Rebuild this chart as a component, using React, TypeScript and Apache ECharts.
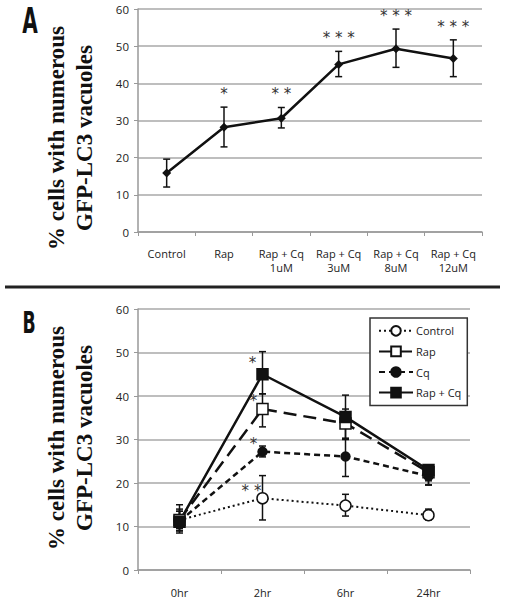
import React, { useEffect, useRef } from "react";
import * as echarts from "echarts";

// Panel A
const catsA = ["Control", "Rap", "Rap + Cq\n1uM", "Rap + Cq\n3uM", "Rap + Cq\n8uM", "Rap + Cq\n12uM"];
const meanA = [15.9, 28.2, 30.6, 45.1, 49.3, 46.7];
const lowA = [12.1, 22.9, 28.0, 41.8, 44.3, 41.8];
const highA = [19.6, 33.6, 33.5, 48.6, 54.6, 51.7];
const sigA = ["", "*", "* *", "* * *", "* * *", "* * *"];

// Panel B
const catsB = ["0hr", "2hr", "6hr", "24hr"];
const controlB = [11.5, 16.5, 14.8, 12.6];
const controlLow = [9.5, 11.5, 12.4, 11.5];
const controlHigh = [13.5, 21.7, 17.4, 14.0];
const rapB = [11.5, 37.0, 33.7, 22.5];
const rapLow = [9.0, 32.9, 30.0, 20.5];
const rapHigh = [14.0, 40.5, 37.0, 24.0];
const cqB = [11.2, 27.2, 26.1, 21.6];
const cqLow = [9.0, 26.0, 21.5, 19.5];
const cqHigh = [13.5, 28.5, 30.3, 23.0];
const rapCqB = [11.1, 45.0, 35.2, 23.0];
const rapCqLow = [8.5, 40.5, 30.2, 19.6];
const rapCqHigh = [15.0, 50.2, 40.2, 24.0];
const sigB2hr = { Control: "* *", Rap: "*", Cq: "*", "Rap + Cq": "*" };

const FONT = "Open Sans";
const INK = "#111";

function errSeries(name, xAxisIndex, yAxisIndex, low, high, sigs, sigMode) {
  return {
    type: "custom",
    name: name + " err",
    xAxisIndex,
    yAxisIndex,
    z: 5,
    silent: true,
    data: low.map((l, i) => [i, l, high[i]]),
    renderItem: (params, api) => {
      const x = api.value(0);
      const lo = api.coord([x, api.value(1)]);
      const hi = api.coord([x, api.value(2)]);
      const cap = 3.5;
      const st = { stroke: INK, lineWidth: 1.5 };
      const children: any[] = [
        { type: "line", shape: { x1: lo[0], y1: lo[1], x2: hi[0], y2: hi[1] }, style: st },
        { type: "line", shape: { x1: lo[0] - cap, y1: lo[1], x2: lo[0] + cap, y2: lo[1] }, style: st },
        { type: "line", shape: { x1: hi[0] - cap, y1: hi[1], x2: hi[0] + cap, y2: hi[1] }, style: st },
      ];
      const sig = sigs ? sigs[params.dataIndex] : "";
      if (sig) {
        let tx, ty;
        if (sigMode === "above") {
          tx = hi[0];
          ty = hi[1] - 13;
        } else {
          const m = sigMode as any;
          const p = api.coord([x, m.v[params.dataIndex]]);
          tx = p[0] + m.dx;
          ty = p[1] + m.dy;
        }
        children.push({
          type: "text",
          style: { text: sig, x: tx, y: ty, align: "center", verticalAlign: "middle", fontSize: 15, fill: "#333", fontFamily: "DejaVu Sans" },
        });
      }
      return { type: "group", children };
    },
  };
}

export default function App() {
  const ref = useRef<HTMLDivElement>(null);
  useEffect(() => {
    document.body.style.margin = "0";
    const chart = echarts.init(ref.current!, null, { renderer: "svg" });

    const yAxisBase = (gridIndex) => ({
      type: "value",
      gridIndex,
      min: 0,
      max: 60,
      interval: 10,
      axisLine: { show: true, lineStyle: { color: "#999", width: 1.5 } },
      axisTick: { show: true, length: 4, lineStyle: { color: "#999" } },
      axisLabel: { color: "#222", fontSize: 11.5, fontFamily: FONT, margin: 9 },
      splitLine: { show: true, lineStyle: { color: "#a8a8a8", width: 1.5 } },
    });
    const xAxisBase = (gridIndex, data, margin) => ({
      type: "category",
      gridIndex,
      data,
      boundaryGap: true,
      axisLine: { show: true, lineStyle: { color: "#999", width: 1.5 } },
      axisTick: { show: true, length: 4, lineStyle: { color: "#999" } },
      axisLabel: { color: "#222", fontSize: 11, fontFamily: FONT, margin, lineHeight: 14, interval: 0 },
      splitLine: { show: false },
    });

    const sigBSeries = (name, means) => ({
      v: means,
      arr: catsB.map((_, i) => (i === 1 ? sigB2hr[name] : "")),
    });

    const lineB = (name, data, type, symbol, filled, size, width) => ({
      type: "line",
      name,
      xAxisIndex: 1,
      yAxisIndex: 1,
      data,
      symbol,
      symbolSize: size,
      showAllSymbol: true,
      z: 10,
      lineStyle: { color: INK, width, type },
      itemStyle: { color: filled ? INK : "#fff", borderColor: INK, borderWidth: 1.5 },
    });

    const cS = sigBSeries("Control", controlB);
    const rS = sigBSeries("Rap", rapB);
    const qS = sigBSeries("Cq", cqB);
    const rqS = sigBSeries("Rap + Cq", rapCqB);

    const labelFont = "Liberation Sans Narrow, DejaVu Sans Condensed, sans-serif";

    chart.setOption({
      animation: false,
      backgroundColor: "#fff",
      grid: [
        { left: 138, right: 23, top: 9, height: 223, containLabel: false },
        { left: 138, right: 35, top: 309, height: 261, containLabel: false },
      ],
      xAxis: [xAxisBase(0, catsA, 14), xAxisBase(1, catsB, 15)],
      yAxis: [yAxisBase(0), yAxisBase(1)],
      legend: {
        orient: "vertical",
        left: 370,
        top: 318,
        padding: [7, 6, 7, 8],
        itemGap: 9,
        itemWidth: 34,
        itemHeight: 12,
        backgroundColor: "#fff",
        borderColor: "#333",
        borderWidth: 1.5,
        data: ["Control", "Rap", "Cq", "Rap + Cq"],
        textStyle: { color: "#222", fontSize: 11, fontFamily: FONT, padding: [0, 0, 0, -2] },
      },
      series: [
        {
          type: "line",
          name: "A",
          xAxisIndex: 0,
          yAxisIndex: 0,
          data: meanA,
          symbol: "diamond",
          symbolSize: 9,
          z: 10,
          lineStyle: { color: INK, width: 2.5 },
          itemStyle: { color: INK },
        },
        errSeries("A", 0, 0, lowA, highA, sigA, "above"),
        lineB("Control", controlB, [2, 3], "circle", false, 11, 2),
        lineB("Rap", rapB, [13, 7], "rect", false, 11, 2.5),
        lineB("Cq", cqB, [6, 4], "circle", true, 9, 2.5),
        lineB("Rap + Cq", rapCqB, "solid", "rect", true, 11, 2.5),
        errSeries("Control", 1, 1, controlLow, controlHigh, cS.arr, { v: cS.v, dx: -11, dy: -7 }),
        errSeries("Rap", 1, 1, rapLow, rapHigh, rS.arr, { v: rS.v, dx: -9, dy: -8 }),
        errSeries("Cq", 1, 1, cqLow, cqHigh, qS.arr, { v: qS.v, dx: -9, dy: -8 }),
        errSeries("Rap + Cq", 1, 1, rapCqLow, rapCqHigh, rqS.arr, { v: rqS.v, dx: -10, dy: -11 }),
      ],
      graphic: [
        {
          type: "text",
          x: 30,
          y: 20,
          scaleX: 0.62,
          style: { text: "A", fontSize: 36, fontWeight: "bold", fontFamily: labelFont, fill: "#111", align: "center", verticalAlign: "middle" },
        },
        {
          type: "text",
          x: 29,
          y: 322,
          scaleX: 0.62,
          style: { text: "B", fontSize: 31, fontWeight: "bold", fontFamily: labelFont, fill: "#111", align: "center", verticalAlign: "middle" },
        },
        {
          type: "text",
          x: 56,
          y: 138,
          rotation: Math.PI / 2,
          style: { text: "% cells with numerous", fontSize: 23, fontWeight: "bold", fontFamily: "Liberation Serif", fill: "#111", align: "center", verticalAlign: "middle" },
        },
        {
          type: "text",
          x: 84,
          y: 138,
          rotation: Math.PI / 2,
          style: { text: "GFP-LC3 vacuoles", fontSize: 23, fontWeight: "bold", fontFamily: "Liberation Serif", fill: "#111", align: "center", verticalAlign: "middle" },
        },
        {
          type: "text",
          x: 56,
          y: 438,
          rotation: Math.PI / 2,
          style: { text: "% cells with numerous", fontSize: 23, fontWeight: "bold", fontFamily: "Liberation Serif", fill: "#111", align: "center", verticalAlign: "middle" },
        },
        {
          type: "text",
          x: 84,
          y: 438,
          rotation: Math.PI / 2,
          style: { text: "GFP-LC3 vacuoles", fontSize: 23, fontWeight: "bold", fontFamily: "Liberation Serif", fill: "#111", align: "center", verticalAlign: "middle" },
        },
        {
          type: "line",
          shape: { x1: 5, y1: 287, x2: 500, y2: 287 },
          style: { stroke: "#222", lineWidth: 3 },
        },
      ],
    });
    return () => chart.dispose();
  }, []);
  return <div ref={ref} style={{ width: 505, height: 599 }} />;
}
